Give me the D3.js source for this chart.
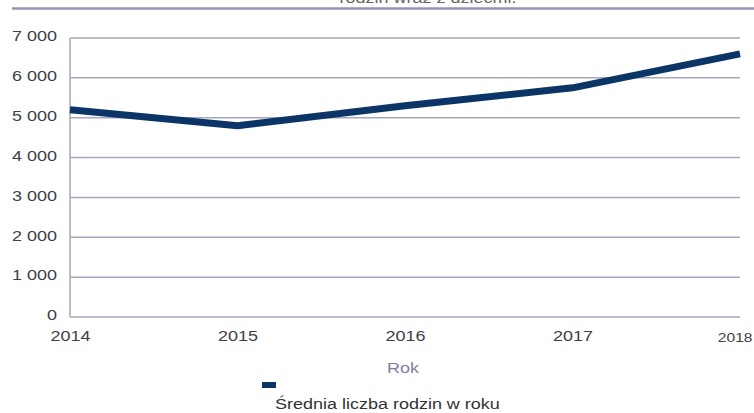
<!DOCTYPE html>
<html>
<head>
<meta charset="utf-8">
<script src="https://cdn.jsdelivr.net/npm/d3@7"></script>
<style>
  body { margin: 0; background: #fff; }
  text { font-family: "Liberation Sans", Arial, sans-serif; }
</style>
</head>
<body>
<div id="chart"></div>
<script>
// DATA
var years = [2014, 2015, 2016, 2017, 2018];
var families = [5200, 4800, 5300, 5750, 6600];
var yTicks = [0, 1000, 2000, 3000, 4000, 5000, 6000, 7000];
var seriesName = "Średnia liczba rodzin w roku";
var axisTitle = "Rok";
var titleText = "rodzin wraz z dziećmi.";

var w = 754, h = 413;
var margin = { top: 38, right: 14, bottom: 96, left: 70 };
var sx = 1.2; // text in the picture is drawn a bit wide

var svg = d3.select('#chart').append('svg')
  .attr('width', w)
  .attr('height', h);

// stretched text helper
function wideText(x0, y0, str, size, fill, anchor) {
  return svg.append('g')
    .attr('transform', 'translate(' + x0 + ',' + y0 + ') scale(' + sx + ',1)')
    .append('text')
      .attr('text-anchor', anchor || 'start')
      .attr('font-size', size)
      .attr('fill', fill)
      .text(str);
}

// cut-off title and the rule under it
wideText(428, 3, titleText, 15, '#666', 'middle');

svg.append('line')
  .attr('x1', 12).attr('x2', w)
  .attr('y1', 8.5).attr('y2', 8.5)
  .attr('stroke', '#9494b4')
  .attr('stroke-width', 2.5);

var x = d3.scalePoint()
  .domain(years)
  .range([margin.left, w - margin.right]);

var y = d3.scaleLinear()
  .domain([0, 7000])
  .range([h - margin.bottom, margin.top]);

// gridlines
svg.append('g')
  .selectAll('line')
  .data(yTicks)
  .enter().append('line')
    .attr('x1', margin.left)
    .attr('x2', w - margin.right)
    .attr('y1', function(d) { return y(d); })
    .attr('y2', function(d) { return y(d); })
    .attr('stroke', '#a6a6bd')
    .attr('stroke-width', 1.5);

// left axis line
svg.append('line')
  .attr('x1', margin.left).attr('x2', margin.left)
  .attr('y1', y(7000)).attr('y2', y(0))
  .attr('stroke', '#a6a6bd')
  .attr('stroke-width', 1.5);

// y labels
var yAxis = d3.axisLeft(y)
  .tickValues(yTicks)
  .tickSize(0)
  .tickPadding(13 / sx)
  .tickFormat(function(d) { return d3.format(',')(d).replace(',', ' '); });

var gy = svg.append('g')
  .attr('transform', 'translate(' + margin.left + ',0)')
  .call(yAxis);
gy.select('.domain').remove();
gy.selectAll('text')
  .attr('font-size', 15)
  .attr('fill', '#404048')
  .attr('font-family', '"Liberation Sans", Arial, sans-serif')
  .attr('transform', 'translate(0,-2) scale(' + sx + ',1)');

// x labels
var xAxis = d3.axisBottom(x)
  .tickSize(0)
  .tickPadding(13)
  .tickFormat(d3.format('d'));

var gx = svg.append('g')
  .attr('transform', 'translate(0,' + y(0) + ')')
  .call(xAxis);
gx.select('.domain').remove();
gx.selectAll('text')
  .attr('font-size', 15)
  .attr('fill', '#404048')
  .attr('font-family', '"Liberation Sans", Arial, sans-serif')
  .attr('transform', 'scale(' + sx + ',1)');
gx.selectAll('.tick').filter(function(d) { return d === 2018; })
  .select('text')
  .attr('font-size', 13)
  .attr('dy', '0.9em')
  .attr('text-anchor', 'end')
  .attr('x', 12 / sx);

// axis title
wideText(403, 373, axisTitle, 15, '#7e7e9e', 'middle');

// line
var line = d3.line()
  .x(function(d, i) { return x(years[i]); })
  .y(function(d) { return y(d); });

svg.append('path')
  .datum(families)
  .attr('d', line)
  .attr('fill', 'none')
  .attr('stroke', '#0b3567')
  .attr('stroke-width', 7)
  .attr('stroke-linejoin', 'round');

// legend
svg.append('rect')
  .attr('x', 262).attr('y', 382)
  .attr('width', 14).attr('height', 6)
  .attr('fill', '#0b3567');

wideText(275, 409, seriesName, 15, '#333');
</script>
</body>
</html>
